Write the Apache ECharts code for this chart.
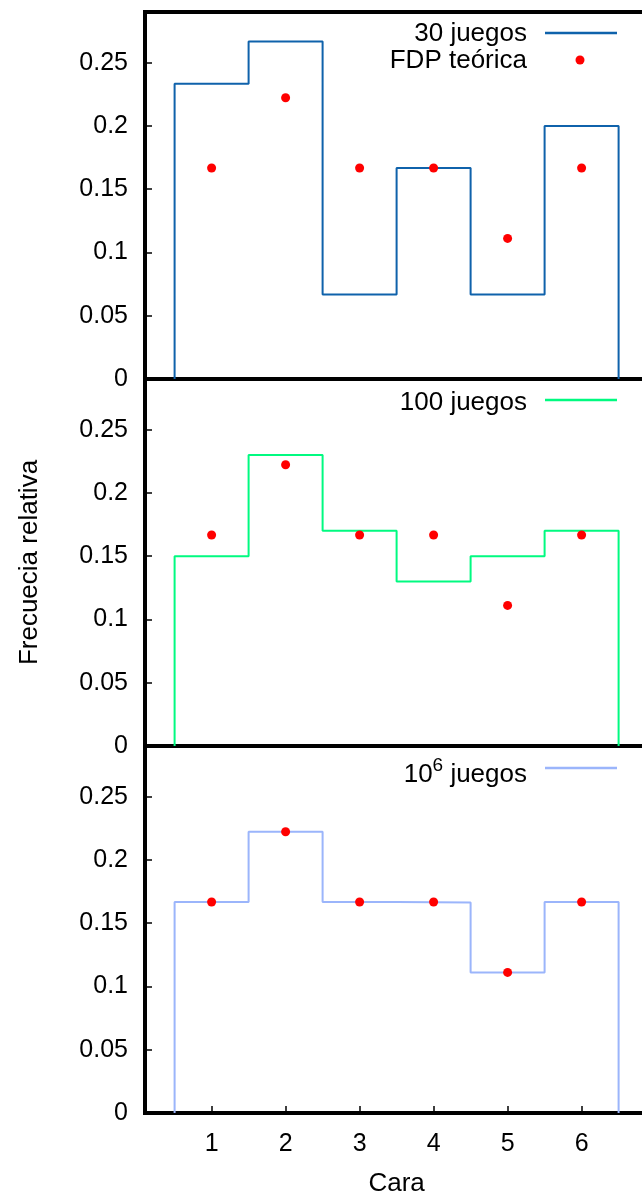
<!DOCTYPE html>
<html>
<head>
<meta charset="utf-8">
<script src="https://cdn.jsdelivr.net/npm/echarts@6/dist/echarts.min.js"></script>
<style>
  html, body { margin: 0; padding: 0; overflow: hidden; background: #fff; }
  #chart { width: 700px; height: 1193px; }
</style>
</head>
<body>
<div id="chart"></div>
<script>
// caras del dado
const caras = [1, 2, 3, 4, 5, 6];
// frecuencias relativas observadas
const frec30 = [0.2333, 0.2667, 0.0667, 0.1667, 0.0667, 0.2];
const frec100 = [0.15, 0.23, 0.17, 0.13, 0.15, 0.17];
const frec1e6 = [0.1667, 0.2222, 0.1668, 0.1664, 0.1111, 0.1668];
// FDP teorica
const fdp = [0.1667, 0.2222, 0.1667, 0.1667, 0.1111, 0.1667];
// ticks
const yTicks = [0, 0.05, 0.1, 0.15, 0.2, 0.25];
const xTicks = [1, 2, 3, 4, 5, 6];

const FONT = "Liberation Sans, Arial, Helvetica, sans-serif";
const FS = 25;
const colores = ["#0f62ab", "#00fa80", "#9bb5fb"];

// convierte las frecuencias en un histograma por escalones
function histeps(vals) {
  let pts = [[caras[0] - 0.5, 0]];
  vals.forEach(function (v, i) {
    pts.push([caras[i] - 0.5, v]);
    pts.push([caras[i] + 0.5, v]);
  });
  pts.push([caras[caras.length - 1] + 0.5, 0]);
  return pts;
}

const panelTop = [12, 379, 746];
const panelH = 367;
const gridW = 503.2;

let grids = [], xAxes = [], yAxes = [], series = [];
[frec30, frec100, frec1e6].forEach(function (vals, k) {
  grids.push({
    left: 145, top: panelTop[k], width: gridW, height: panelH,
    containLabel: false, outerBoundsMode: "none",
    show: true, borderColor: "#000", borderWidth: 4, backgroundColor: "transparent"
  });
  const last = k === 2;
  xAxes.push({
    type: "value", gridIndex: k, min: 0.1, max: 6.9,
    axisLine: { show: false },
    splitLine: { show: false },
    axisTick: { show: last, inside: true, length: 7, lineStyle: { color: "#000", width: 1.5 }, customValues: xTicks },
    axisLabel: { show: last, margin: 19, fontSize: FS, color: "#000", fontFamily: FONT, customValues: xTicks },
    name: last ? "Cara" : "",
    nameLocation: "middle", nameGap: 58,
    nameTextStyle: { fontSize: 26, color: "#000", fontFamily: FONT }
  });
  yAxes.push({
    type: "value", gridIndex: k, min: 0, max: 0.29,
    axisLine: { show: false },
    splitLine: { show: false },
    axisTick: { show: true, inside: true, length: 7, lineStyle: { color: "#000", width: 1.5 }, customValues: yTicks },
    axisLabel: { margin: 17, fontSize: FS, color: "#000", fontFamily: FONT, customValues: yTicks },
    name: k === 1 ? "Frecuecia relativa" : "",
    nameLocation: "middle", nameGap: 102, nameRotate: 90,
    nameTextStyle: { fontSize: 26, color: "#000", fontFamily: FONT }
  });
  series.push({
    type: "line", xAxisIndex: k, yAxisIndex: k,
    data: histeps(vals), symbol: "none", silent: true,
    lineStyle: { color: colores[k], width: 2 }, z: 2
  });
  series.push({
    type: "scatter", xAxisIndex: k, yAxisIndex: k,
    data: caras.map(function (c, i) { return [c, fdp[i]]; }),
    symbol: "circle", symbolSize: 9, silent: true,
    itemStyle: { color: "#ff0000", opacity: 1 }, z: 3
  });
});

// leyendas
const txt = { fontSize: 26, fill: "#000", fontFamily: FONT, align: "right", verticalAlign: "middle" };
const graphic = [
  { type: "text", x: 527, y: 34, style: Object.assign({ text: "30 juegos" }, txt) },
  { type: "line", shape: { x1: 545, y1: 33, x2: 617, y2: 33 }, style: { stroke: colores[0], lineWidth: 2.5 } },
  { type: "text", x: 527, y: 61, style: Object.assign({ text: "FDP teórica" }, txt) },
  { type: "circle", shape: { cx: 580, cy: 60, r: 4.5 }, style: { fill: "#ff0000" } },
  { type: "text", x: 527, y: 403, style: Object.assign({ text: "100 juegos" }, txt) },
  { type: "line", shape: { x1: 545, y1: 400, x2: 617, y2: 400 }, style: { stroke: colores[1], lineWidth: 2.5 } },
  {
    type: "text", x: 527, y: 772,
    style: {
      text: "{a|10}{s|6}{a| juegos}", align: "right", verticalAlign: "middle",
      rich: {
        a: { fontSize: 26, fill: "#000", fontFamily: FONT, lineHeight: 32, verticalAlign: "bottom" },
        s: { fontSize: 19, fill: "#000", fontFamily: FONT, lineHeight: 32, verticalAlign: "top" }
      }
    }
  },
  { type: "line", shape: { x1: 545, y1: 768, x2: 617, y2: 768 }, style: { stroke: colores[2], lineWidth: 2.5 } }
];

const chart = echarts.init(document.getElementById("chart"), null, { renderer: "canvas" });
chart.setOption({
  animation: false,
  backgroundColor: "#fff",
  grid: grids,
  xAxis: xAxes,
  yAxis: yAxes,
  series: series,
  graphic: graphic
});
</script>
</body>
</html>
